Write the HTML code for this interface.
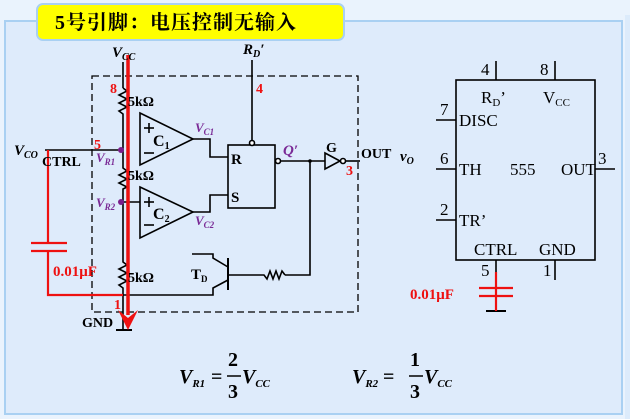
<!DOCTYPE html>
<html><head><meta charset="utf-8"><style>
body{margin:0;background:#eaf3fd;width:630px;height:419px;overflow:hidden}
svg{display:block}
text{font-family:"Liberation Serif","Noto Serif CJK SC",serif}
</style></head><body>
<svg width="630" height="419" viewBox="0 0 630 419">
<rect x="0" y="0" width="630" height="419" fill="#eaf3fd"/>
<rect x="5" y="21" width="617" height="393" fill="#deebfb" stroke="#a9d0f2" stroke-width="2"/>
<rect x="625" y="15" width="5" height="404" fill="#dcebfb"/>
<rect x="37" y="4" width="307" height="36" rx="6" fill="#ffff00" stroke="#a9d0f2" stroke-width="2"/>
<text x="55" y="29" font-size="20" font-weight="bold" letter-spacing="1" font-family="Liberation Sans,Noto Sans CJK SC,sans-serif">5号引脚：电压控制无输入</text>

<g stroke="#000" stroke-width="1.6" fill="none">
<rect x="92" y="76" width="266" height="236" stroke-dasharray="7,4" stroke-width="1.3"/>
<line x1="123" y1="62" x2="123" y2="88"/>
<path d="M123 88 l4 3 -8 4 8 4 -8 4 8 4 -8 4 4 3 V168 l4 3 -8 4 8 4 -8 4 8 4 -4 2 V262 l4 3 -8 4 8 4 -8 4 8 4 -8 4 4 3 V330"/>
<line x1="116" y1="330" x2="132" y2="330" stroke-width="2"/>
<line x1="45" y1="150" x2="121" y2="150"/>
<line x1="121" y1="202" x2="140" y2="202"/>
<path d="M140 113 L193 139 L140 165 Z"/>
<path d="M140 187 L193 212 L140 238 Z"/>
<line x1="144" y1="128" x2="154" y2="128"/><line x1="149" y1="123" x2="149" y2="133"/>
<line x1="144" y1="153" x2="154" y2="153"/>
<line x1="144" y1="202" x2="154" y2="202"/><line x1="149" y1="197" x2="149" y2="207"/>
<line x1="144" y1="225" x2="154" y2="225"/>
<polyline points="193,139 210,139 210,157 228,157"/>
<polyline points="193,212 210,212 210,195 228,195"/>
<rect x="228" y="145" width="47" height="63"/>
<line x1="252" y1="60" x2="252" y2="141"/>
<circle cx="252" cy="143" r="2.5" fill="#fff"/>
<circle cx="278" cy="161" r="2.5" fill="#fff"/>
<line x1="281" y1="161" x2="325" y2="161"/>
<path d="M325 153 L340 161 L325 169 Z"/>
<circle cx="343" cy="161" r="2.5" fill="#fff"/>
<line x1="346" y1="161" x2="360" y2="161"/>
<polyline points="310,161 310,275 285,275"/>
<path d="M285 275 l-3 -4 -3 8 -3 -8 -3 8 -3 -8 -3 8 -3 -4 H228"/>
<line x1="228" y1="258" x2="228" y2="290" stroke-width="2"/>
<polyline points="192,254 213,254 213,258 228,267"/>
<polyline points="228,280 213,288 213,295 123,295"/>
<line x1="436" y1="120" x2="456" y2="120"/>
<line x1="436" y1="169" x2="456" y2="169"/>
<line x1="436" y1="220" x2="456" y2="220"/>
<line x1="595" y1="169" x2="615" y2="169"/>
<rect x="456" y="80" width="139" height="180"/>
<line x1="496" y1="61" x2="496" y2="80"/>
<line x1="555" y1="61" x2="555" y2="80"/>
<line x1="496" y1="260" x2="496" y2="272"/>
<line x1="555" y1="260" x2="555" y2="280"/>
<line x1="486" y1="311" x2="506" y2="311" stroke-width="2"/>
</g>
<circle cx="121" cy="150" r="3" fill="#7a1e8c"/>
<circle cx="121" cy="202" r="3" fill="#7a1e8c"/>
<circle cx="310" cy="161" r="1.8" fill="#000"/>

<g stroke="#ee1111" stroke-width="2.2" fill="none">
<polyline points="48,150 48,243"/>
<line x1="31" y1="243" x2="67" y2="243"/>
<line x1="31" y1="251" x2="67" y2="251"/>
<polyline points="48,251 48,295 123,295"/>
<line x1="496" y1="272" x2="496" y2="311"/>
<line x1="479" y1="288" x2="513" y2="288"/>
<line x1="479" y1="296" x2="513" y2="296"/>
</g>
<line x1="128" y1="55" x2="128" y2="315" stroke="#ee1111" stroke-width="3.5"/>
<path d="M118 310 L128 330 L138 310 L128 318 Z" fill="#ee1111"/>

<g font-size="15" font-weight="bold">
<text x="112" y="57" font-style="italic">V<tspan font-size="10" dy="3">CC</tspan></text>
<text x="243" y="54" font-style="italic">R<tspan font-size="10" dy="3">D</tspan><tspan dy="-3">′</tspan></text>
<text x="14" y="155" font-style="italic">V<tspan font-size="10" dy="3">CO</tspan></text>
<text x="42" y="166" font-size="14">CTRL</text>
<text x="128" y="106" font-size="14">5kΩ</text>
<text x="128" y="180" font-size="14">5kΩ</text>
<text x="128" y="282" font-size="14">5kΩ</text>
<text x="153" y="146" font-size="16">C<tspan font-size="10" dy="3">1</tspan></text>
<text x="153" y="219" font-size="16">C<tspan font-size="10" dy="3">2</tspan></text>
<text x="231" y="164" font-size="15">R</text>
<text x="231" y="202" font-size="15">S</text>
<text x="191" y="279" font-size="15">T<tspan font-size="9" dy="3">D</tspan></text>
<text x="326" y="152" font-size="14" font-family="Liberation Sans,sans-serif">G</text>
<text x="361" y="158" font-size="14">OUT</text>
<text x="400" y="161" font-style="italic">v<tspan font-size="10" dy="3">O</tspan></text>
<text x="82" y="327" font-size="14">GND</text>
</g>
<g font-size="13" font-weight="bold" fill="#7a2a96" font-style="italic">
<text x="96" y="162">V<tspan font-size="9" dy="3">R1</tspan></text>
<text x="96" y="207">V<tspan font-size="9" dy="3">R2</tspan></text>
<text x="195" y="132">V<tspan font-size="9" dy="3">C1</tspan></text>
<text x="195" y="225">V<tspan font-size="9" dy="3">C2</tspan></text>
<text x="283" y="155" font-size="15">Q′</text>
</g>
<g font-size="14" font-weight="bold" fill="#ee1111">
<text x="110" y="93">8</text>
<text x="256" y="93">4</text>
<text x="94" y="149">5</text>
<text x="346" y="175">3</text>
<text x="114" y="309">1</text>
<text x="53" y="276" font-size="15">0.01μF</text>
<text x="410" y="299" font-size="15">0.01μF</text>
</g>
<g font-size="17">
<text x="481" y="75">4</text><text x="540" y="75">8</text>
<text x="481" y="103">R<tspan font-size="11" dy="3">D</tspan><tspan dy="-3">’</tspan></text>
<text x="543" y="103">V<tspan font-size="11" dy="3">CC</tspan></text>
<text x="440" y="115">7</text><text x="459" y="126">DISC</text>
<text x="440" y="164">6</text><text x="459" y="175">TH</text>
<text x="510" y="175">555</text>
<text x="561" y="175">OUT</text><text x="598" y="164">3</text>
<text x="440" y="215">2</text><text x="459" y="226">TR’</text>
<text x="474" y="255">CTRL</text><text x="539" y="255">GND</text>
<text x="481" y="276">5</text><text x="543" y="276">1</text>
</g>
<g font-size="20" font-weight="bold" font-style="italic">
<text x="179" y="383">V<tspan font-size="11" dy="4">R1</tspan></text>
<text x="352" y="383">V<tspan font-size="11" dy="4">R2</tspan></text>
<text x="242" y="383">V<tspan font-size="11" dy="4">CC</tspan></text>
<text x="424" y="383">V<tspan font-size="11" dy="4">CC</tspan></text>
</g>
<g font-size="20" font-weight="bold">
<text x="211" y="383">=</text><text x="383" y="383">=</text>
<text x="228" y="366">2</text><text x="228" y="398">3</text>
<text x="410" y="366">1</text><text x="410" y="398">3</text>
</g>
<line x1="227" y1="376" x2="241" y2="376" stroke="#000" stroke-width="1.5"/>
<line x1="409" y1="376" x2="423" y2="376" stroke="#000" stroke-width="1.5"/>
</svg>
</body></html>
